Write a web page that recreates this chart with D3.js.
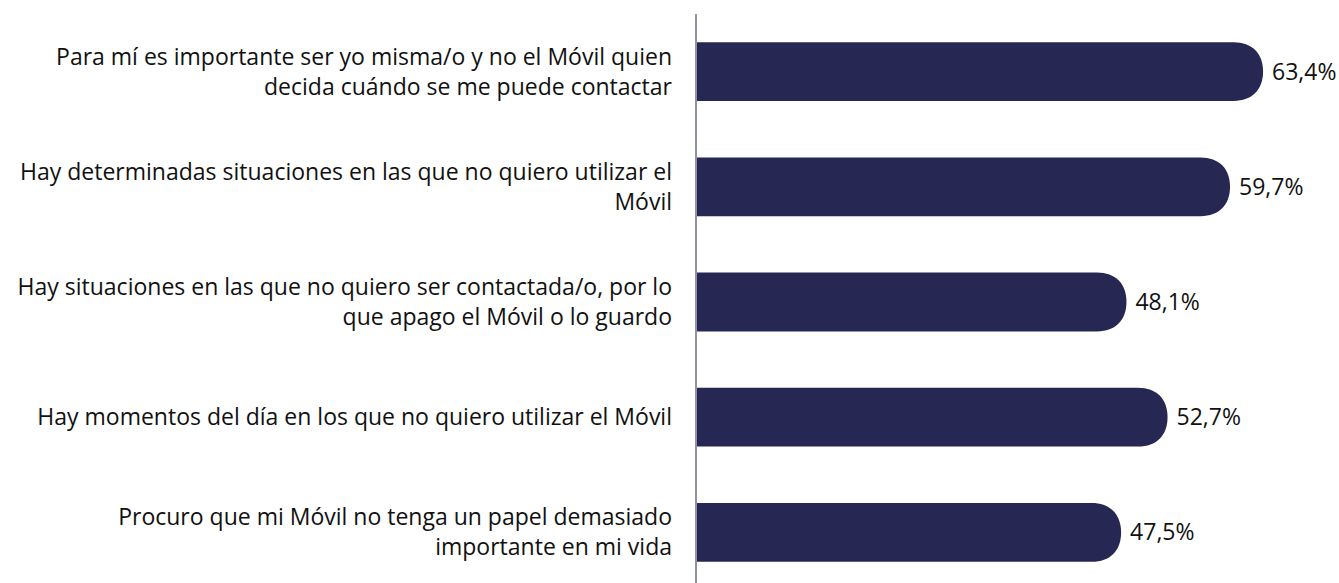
<!DOCTYPE html>
<html>
<head>
<meta charset="utf-8">
<script src="https://cdn.jsdelivr.net/npm/d3@7"></script>
<style>
  body { margin: 0; background: #fff; }
  svg { display: block; }
  .cat-label { font-family: "Open Sans", "Liberation Sans", Arial, sans-serif; font-size: 23px; fill: #111; }
  .val-label { font-family: "Open Sans", "Liberation Sans", Arial, sans-serif; font-size: 23px; fill: #111; }
</style>
</head>
<body>
<div id="chart"></div>
<script>
// categories (each split in display lines) and values
var categories = [
	["Para mí es importante ser yo misma/o y no el Móvil quien", "decida cuándo se me puede contactar"],
	["Hay determinadas situaciones en las que no quiero utilizar el", "Móvil"],
	["Hay situaciones en las que no quiero ser contactada/o, por lo", "que apago el Móvil o lo guardo"],
	["Hay momentos del día en los que no quiero utilizar el Móvil"],
	["Procuro que mi Móvil no tenga un papel demasiado", "importante en mi vida"]
];
var values = [63.4, 59.7, 48.1, 52.7, 47.5];
var valueLabels = ["63,4%", "59,7%", "48,1%", "52,7%", "47,5%"];

var width = 1339;
var height = 583;
var axisX = 697;
var labelRight = 672;
var lineHeight = 30;
var barColor = '#272753';

var svg = d3.select('#chart')
	.append('svg')
		.attr('width', width)
		.attr('height', height);

var x = d3.scaleLinear()
	.domain([0, 70])
	.range([axisX, axisX + 625]);

var y = d3.scaleBand()
	.domain(d3.range(categories.length))
	.range([14, 590])
	.paddingInner(0.49)
	.paddingOuter(0.245);

// bar with a rounded right end
var barPath = function(i) {
	var x0 = x(0), x1 = x(values[i]);
	var y0 = y(i), h = y.bandwidth(), y1 = y0 + h;
	var r = Math.min(h / 2, x1 - x0);
	var k = 0.62; // a bit squarer than a true semicircle
	return 'M' + x0 + ',' + y0
		+ 'H' + (x1 - r)
		+ 'C' + (x1 - r + r * k) + ',' + y0 + ' ' + x1 + ',' + (y0 + h / 2 - r * k) + ' ' + x1 + ',' + (y0 + h / 2)
		+ 'C' + x1 + ',' + (y0 + h / 2 + r * k) + ' ' + (x1 - r + r * k) + ',' + y1 + ' ' + (x1 - r) + ',' + y1
		+ 'H' + x0 + 'Z';
};

svg.selectAll('path.bar')
	.data(values)
	.enter().append('path')
		.attr('class', 'bar')
		.attr('d', function(d, i) { return barPath(i); })
		.attr('fill', barColor);

// vertical axis line
svg.append('line')
	.attr('x1', axisX - 1)
	.attr('x2', axisX - 1)
	.attr('y1', 14)
	.attr('y2', height)
	.attr('stroke', '#6e6e8e')
	.attr('stroke-width', 1.5);

// category labels
var labels = svg.selectAll('text.cat-label')
	.data(categories)
	.enter().append('text')
		.attr('class', 'cat-label')
		.attr('text-anchor', 'end')
		.attr('x', labelRight)
		.attr('y', function(d, i) {
			var c = y(i) + y.bandwidth() / 2;
			return c - (d.length - 1) * lineHeight / 2;
		});

labels.each(function(d) {
	var t = d3.select(this);
	d.forEach(function(line, j) {
		t.append('tspan')
			.attr('x', labelRight)
			.attr('dy', j === 0 ? '0.35em' : lineHeight)
			.text(line);
	});
});

// value labels
svg.selectAll('text.val-label')
	.data(values)
	.enter().append('text')
		.attr('class', 'val-label')
		.attr('x', function(d) { return x(d) + 9; })
		.attr('y', function(d, i) { return y(i) + y.bandwidth() / 2; })
		.attr('dy', '0.35em')
		.text(function(d, i) { return valueLabels[i]; });
</script>
</body>
</html>
